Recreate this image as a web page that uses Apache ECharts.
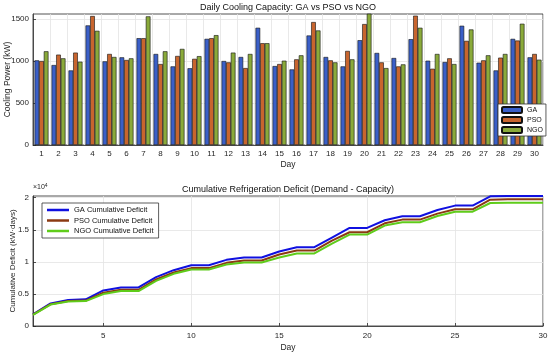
<!DOCTYPE html>
<html>
<head>
<meta charset="utf-8">
<script src="https://cdn.jsdelivr.net/npm/echarts@6/dist/echarts.min.js"></script>
<style>html,body{margin:0;padding:0;background:#fff;}#c{width:550px;height:353px;}</style>
</head>
<body>
<div id="c"></div>
<script>
const days = ['1','2','3','4','5','6','7','8','9','10','11','12','13','14','15','16','17','18','19','20','21','22','23','24','25','26','27','28','29','30'];
const gaCap  = [1008,952,888,1424,996,1044,1272,1084,936,914,1264,1000,1048,1396,940,900,1304,1048,936,1248,1096,1036,1260,1004,988,1420,980,888,1264,1044];
const psoCap = [1000,1076,1100,1536,1084,1012,1272,964,1060,1026,1272,984,916,1212,964,1020,1464,1008,1120,1440,984,936,1540,908,1032,1240,1008,1040,1244,1084];
const ngoCap = [1116,1032,992,1360,1048,1032,1532,1116,1144,1058,1308,1100,1084,1212,1004,1068,1364,984,1020,1600,916,960,1396,1084,964,1376,1068,1084,1444,1016];
const dayNum = [1,2,3,4,5,6,7,8,9,10,11,12,13,14,15,16,17,18,19,20,21,22,23,24,25,26,27,28,29,30];
const gaDef  = [1810,3520,4040,4150,5540,6010,6010,7620,8700,9480,9480,10310,10670,10670,11600,12280,12280,13780,15280,15280,16480,17100,17100,18080,18760,18760,20210,20260,20260,20260];
const psoDef = [1760,3400,3900,3960,5180,5650,5650,7250,8330,9020,9020,9840,10210,10210,11140,11760,11760,13320,14610,14610,16010,16580,16580,17510,18190,18190,19690,19740,19740,19740];
const ngoDef = [1720,3340,3820,3880,4970,5440,5440,7030,8130,8810,8810,9590,9900,9900,10670,11300,11300,12850,14250,14250,15650,16170,16170,17150,17820,17820,19170,19200,19200,19200];
const capTicks = [0,500,1000,1500];
const defTicks = [0,5000,10000,15000,20000];
const dayTicks = [5,10,15,20,25,30];

const FONT = 'Liberation Sans, Arial, sans-serif';
const chart = echarts.init(document.getElementById('c'), null, {renderer:'canvas'});
const axisLineStyle = {color:'#262626', width:0.8};
const gridLine = {show:true, lineStyle:{color:'#e3e3e3', width:0.8}};
const labelStyle = {fontSize:8, color:'#262626', fontFamily:FONT};
const nameStyle = {fontSize:8.5, color:'#262626', fontFamily:FONT};

function zipXY(xs, ys){ return xs.map((x,i)=>[x, ys[i]]); }
const barItem = c => ({color:c, borderColor:'#111', borderWidth:0.6});

chart.setOption({
  animation:false,
  backgroundColor:'#fff',
  textStyle:{fontFamily:FONT},
  title:[
    {text:'Daily Cooling Capacity: GA vs PSO vs NGO', left:288, top:3, padding:0, textAlign:'center',
     textStyle:{fontSize:9, fontWeight:'normal', color:'#111', fontFamily:FONT}},
    {text:'Cumulative Refrigeration Deficit (Demand - Capacity)', left:288, top:185, padding:0, textAlign:'center',
     textStyle:{fontSize:9, fontWeight:'normal', color:'#111', fontFamily:FONT}}
  ],
  grid:[
    {left:33, top:14, width:510, height:131, show:true, borderColor:'#262626', borderWidth:0.8, backgroundColor:'#fff', containLabel:false, outerBoundsMode:'none'},
    {left:33, top:196, width:510, height:130, show:true, borderColor:'#262626', borderWidth:0.8, backgroundColor:'#fff', containLabel:false, outerBoundsMode:'none'}
  ],
  legend:[
    {data:['GA','PSO','NGO'], orient:'vertical', left:498, top:104, itemGap:2, itemWidth:20, itemHeight:6,
     padding:[2,3,2,3], borderColor:'#333', borderWidth:0.8, backgroundColor:'#fff',
     textStyle:{fontSize:7, color:'#111', fontFamily:FONT}},
    {data:['GA Cumulative Deficit','PSO Cumulative Deficit','NGO Cumulative Deficit'], orient:'vertical',
     left:42, top:203, itemGap:2.5, itemWidth:22, itemHeight:2.5, icon:'rect', padding:[3,5,3,5],
     borderColor:'#333', borderWidth:0.8, backgroundColor:'#fff',
     textStyle:{fontSize:7.5, color:'#111', fontFamily:FONT}}
  ],
  xAxis:[
    {type:'category', gridIndex:0, data:days, boundaryGap:true,
     name:'Day', nameLocation:'middle', nameGap:15, nameTextStyle:nameStyle, nameMoveOverlap:false,
     axisLine:{lineStyle:axisLineStyle}, axisTick:{inside:true, alignWithLabel:true, length:3, lineStyle:axisLineStyle},
     axisLabel:Object.assign({margin:5, interval:0}, labelStyle),
     splitLine:Object.assign({interval:0}, gridLine)},
    {type:'value', gridIndex:1, min:1, max:30,
     name:'Day', nameLocation:'middle', nameGap:17, nameTextStyle:nameStyle, nameMoveOverlap:false,
     axisLine:{lineStyle:axisLineStyle},
     axisTick:{inside:true, length:3, lineStyle:axisLineStyle, customValues:dayTicks},
     axisLabel:Object.assign({margin:6, customValues:dayTicks}, labelStyle),
     splitLine:gridLine}
  ],
  yAxis:[
    {type:'value', gridIndex:0, min:0, max:1560,
     name:'Cooling Power (kW)', nameLocation:'middle', nameGap:21, nameTextStyle:nameStyle, nameMoveOverlap:false,
     axisLine:{show:true, lineStyle:axisLineStyle},
     axisTick:{show:true, inside:true, length:3, lineStyle:axisLineStyle, customValues:capTicks},
     axisLabel:Object.assign({margin:4, customValues:capTicks, formatter:v=>String(v)}, labelStyle),
     splitLine:gridLine},
    {type:'value', gridIndex:1, min:0, max:20260,
     name:'Cumulative Deficit (kW·days)', nameLocation:'middle', nameGap:16, nameMoveOverlap:false,
     nameTextStyle:{fontSize:8, color:'#262626', fontFamily:FONT},
     axisLine:{show:true, lineStyle:axisLineStyle},
     axisTick:{show:true, inside:true, length:3, lineStyle:axisLineStyle, customValues:defTicks},
     axisLabel:Object.assign({margin:4, customValues:defTicks, formatter:v=>String(v/10000)}, labelStyle),
     splitLine:gridLine}
  ],
  graphic:[
    {type:'text', left:33, top:183, style:{text:'×10{s|4}', rich:{s:{fontSize:5, verticalAlign:'top', padding:[0,0,4,0]}}, fontSize:7, fill:'#262626', fontFamily:FONT}}
  ],
  series:[
    {name:'GA', type:'bar', xAxisIndex:0, yAxisIndex:0, data:gaCap, barGap:'0%', barCategoryGap:'18%', itemStyle:barItem('#3a5fc8'), clip:true},
    {name:'PSO', type:'bar', xAxisIndex:0, yAxisIndex:0, data:psoCap, barGap:'0%', barCategoryGap:'18%', itemStyle:barItem('#c8652e'), clip:true},
    {name:'NGO', type:'bar', xAxisIndex:0, yAxisIndex:0, data:ngoCap, barGap:'0%', barCategoryGap:'18%', itemStyle:barItem('#8aaa3a'), clip:true},
    {name:'GA Cumulative Deficit', type:'line', xAxisIndex:1, yAxisIndex:1, data:zipXY(dayNum, gaDef), symbol:'none', lineStyle:{color:'#1010e0', width:2}, itemStyle:{color:'#1010e0'}},
    {name:'PSO Cumulative Deficit', type:'line', xAxisIndex:1, yAxisIndex:1, data:zipXY(dayNum, psoDef), symbol:'none', lineStyle:{color:'#8b3a12', width:2}, itemStyle:{color:'#8b3a12'}},
    {name:'NGO Cumulative Deficit', type:'line', xAxisIndex:1, yAxisIndex:1, data:zipXY(dayNum, ngoDef), symbol:'none', lineStyle:{color:'#5fcc1a', width:2}, itemStyle:{color:'#5fcc1a'}}
  ]
});
</script>
</body>
</html>
